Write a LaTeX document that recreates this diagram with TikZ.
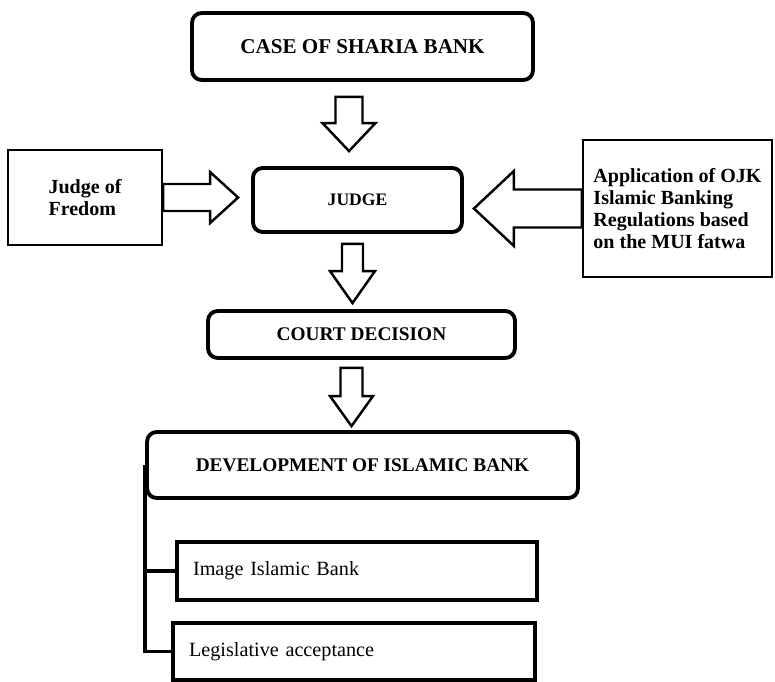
\documentclass[tikz,border=0pt]{standalone}
\usepackage{fontspec}
\setmainfont{Liberation Serif}
\usetikzlibrary{calc}

\tikzset{
  roundbox/.style={draw, rounded corners=5.5pt, line width=2.2pt, font=\bfseries},
  sidebox/.style={draw, line width=1.4pt, align=left, font=\bfseries\fontsize{11.4}{12.6}\selectfont},
  itembox/.style={draw, line width=2pt, align=left, font=\fontsize{11.5}{13}\selectfont},
  arrowline/.style={line width=1.4pt, fill=white},
  tree/.style={line width=2pt}
}

% outlined block arrow: start, tip, half shaft, half head, head length
\newcommand{\blockarrow}[5]{%
  \coordinate (head) at ($(#2)!#5!(#1)$);
  \draw[arrowline] ($(#1)!#3!90:(#2)$) -- ($(head)!#3!90:(#2)$) -- ($(head)!#4!90:(#2)$) -- (#2)
    -- ($(head)!#4!-90:(#2)$) -- ($(head)!#3!-90:(#2)$) -- ($(#1)!#3!-90:(#2)$) -- cycle;}

\begin{document}
\begin{tikzpicture}[x=0.02cm, y=-0.02cm]
    \useasboundingbox (0,0) rectangle (775,681);

    \node[roundbox, minimum width=6.82cm, minimum height=1.34cm, font=\bfseries\fontsize{12}{14}\selectfont] (case) at (362.5,46.5) {CASE OF SHARIA BANK};
    \node[roundbox, minimum width=4.18cm, minimum height=1.28cm, font=\bfseries\fontsize{10}{12}\selectfont] (judge) at (357.5,200) {JUDGE};
    \node[sidebox, minimum width=3.08cm, minimum height=1.9cm] (freedom) at (85,197.5) {Judge of\\Fredom};
    \node[sidebox, minimum width=3.78cm, minimum height=2.74cm] (ojk) at (677.5,208.5) {Application of OJK\\Islamic Banking\\Regulations based\\on the MUI fatwa};
    \node[roundbox, minimum width=6.14cm, minimum height=0.94cm, font=\bfseries\fontsize{11}{13}\selectfont] (court) at (361.5,334.5) {COURT DECISION};
    \node[roundbox, minimum width=8.62cm, minimum height=1.32cm, font=\bfseries\fontsize{11}{13}\selectfont] (devel) at (362.5,465) {DEVELOPMENT OF ISLAMIC BANK};
    \node[itembox, minimum width=7.2cm, minimum height=1.16cm, text width=6.56cm] (image) at (357,571) {Image Islamic Bank};
    \node[itembox, minimum width=7.24cm, minimum height=1.14cm, text width=6.6cm] (legis) at (354,651.5) {Legislative acceptance};

    \coordinate (a1s) at ($(case.south)+(-13.5,15)$);
    \coordinate (a1e) at ($(judge.north)+(-8.5,-15)$);
    \coordinate (a2s) at ($(judge.south)+(-5,10)$);
    \coordinate (a2e) at ($(court.north)+(-9,-6)$);
    \coordinate (a3s) at ($(court.south)+(-10,8)$);
    \coordinate (a3e) at ($(devel.north)+(-11,-4)$);
    \coordinate (ale) at ($(judge.west)+(-13,-2.5)$);
    \coordinate (are) at ($(judge.east)+(10,8.5)$);

    \blockarrow{a1s}{a1e}{0.27cm}{0.53cm}{0.56cm}
    \blockarrow{a2s}{a2e}{0.21cm}{0.45cm}{0.64cm}
    \blockarrow{a3s}{a3e}{0.22cm}{0.43cm}{0.60cm}
    \blockarrow{freedom.east}{ale}{0.27cm}{0.51cm}{0.56cm}
    \blockarrow{ojk.west}{are}{0.38cm}{0.75cm}{0.80cm}

    \draw[tree] (devel.west) |- (image.west);
    \draw[tree] (devel.west) |- (legis.west);
\end{tikzpicture}
\end{document}
